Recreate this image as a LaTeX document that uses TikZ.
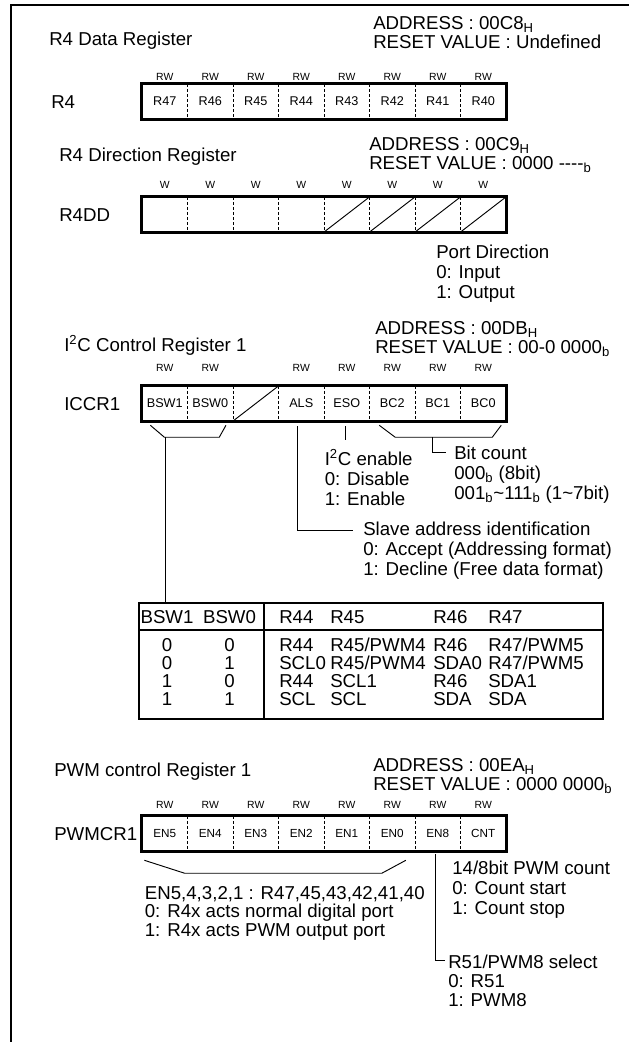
\documentclass[tikz,border=0pt]{standalone}
\usepackage{fontspec}
\setmainfont{Liberation Sans}
\usetikzlibrary{calc}
\tikzset{
    txt/.style={inner sep=0pt, font=\fontsize{14}{14.3}\selectfont},
    blk/.style={inner sep=0pt, font=\fontsize{14}{15}\selectfont, align=left, anchor=north west},
    addr/.style={blk, font=\fontsize{14}{14.3}\selectfont},
    tight/.style={blk, font=\fontsize{14}{14}\selectfont},
    acc/.style={inner sep=0pt, anchor=base, font=\fontsize{7.8}{8}\selectfont},
    cell/.style={inner sep=0pt, minimum width=34.125pt, minimum height=26.25pt, font=\fontsize{9.5}{10}\selectfont},
    pcell/.style={cell, font=\fontsize{8.8}{9}\selectfont},
    regbox/.style={draw, line width=2.4pt},
    sep/.style={line width=1pt, dash pattern=on 2.2pt off 1.6pt},
    wire/.style={line width=0.7pt},
    frame/.style={line width=1.6pt},
    tline/.style={line width=1.5pt},
}
\begin{document}
\begin{tikzpicture}[x=0.75pt, y=-0.75pt]
\useasboundingbox (0,0) rectangle (629,1042);
\draw[frame] (11,1042) -- (11,5) -- (629,5);

% R4 data register
\node[txt, anchor=base west] (r4title) at (49,45.7) {R4 Data Register};
\node[addr] (r4addr) at (373,16) {ADDRESS : 00C8\textsubscript{H}\\RESET VALUE : Undefined};
\node[txt, anchor=base west] (r4name) at (51,108.7) {R4};
\foreach \t [count=\i] in {R47,R46,R45,R44,R43,R42,R41,R40} {
    \node[cell] (ra\i) at ({142+45.5*(\i-0.5)},101.5) {\t};
    \node[acc] (raw\i) at ({142+45.5*(\i-0.5)},80.7) {RW};
}
\foreach \i in {1,...,7} \draw[sep] (ra\i.north east) -- (ra\i.south east);
\draw[regbox] (ra1.north west) rectangle (ra8.south east);

% R4 direction register
\node[txt, anchor=base west] (rdtitle) at (59,161.7) {R4 Direction Register};
\node[addr] (rdaddr) at (369,137) {ADDRESS : 00C9\textsubscript{H}\\RESET VALUE : 0000 -\kern0pt-\kern0pt-\kern0pt-\textsubscript{b}};
\node[txt, anchor=base west] (rdname) at (59,221.2) {R4DD};
\foreach \i in {1,...,8} {
    \node[cell] (rd\i) at ({142+45.5*(\i-0.5)},214.5) {};
    \node[acc] (rdw\i) at ({142+45.5*(\i-0.5)},188.7) {W};
}
\foreach \i in {1,...,7} \draw[sep] (rd\i.north east) -- (rd\i.south east);
\foreach \i in {5,...,8} \draw[wire] (rd\i.south west) -- (rd\i.north east);
\draw[regbox] (rd1.north west) rectangle (rd8.south east);
\node[blk] (rddir) at (436,245) {Port Direction\\0: Input\\1: Output};

% I2C control register 1
\node[txt, anchor=base west] (ictitle) at (64,351.7) {I\textsuperscript{2}C Control Register 1};
\node[addr] (icaddr) at (375,321) {ADDRESS : 00DB\textsubscript{H}\\RESET VALUE : 00-0 0000\textsubscript{b}};
\node[txt, anchor=base west] (icname) at (64,410.7) {ICCR1};
\foreach \t [count=\i] in {BSW1,BSW0,{},ALS,ESO,BC2,BC1,BC0}
    \node[cell] (ic\i) at ({142+45.5*(\i-0.5)},403.5) {\t};
\foreach \i in {1,2,4,5,6,7,8}
    \node[acc] (icw\i) at ({142+45.5*(\i-0.5)},371.7) {RW};
\foreach \i in {1,...,7} \draw[sep] (ic\i.north east) -- (ic\i.south east);
\draw[wire] (ic3.south west) -- (ic3.north east);
\draw[regbox] (ic1.north west) rectangle (ic8.south east);

\draw[wire] ($(ic1.south west)+(8.6,4)$) -- ($(ic1.south west)+(22.7,16)$) -- ($(ic2.south east)+(-14,16)$) -- ($(ic2.south east)+(-7.3,4)$);
\coordinate (bswfoot) at ($(ic1.south west)+(24,16)$);
\coordinate (alsend) at (353,530);
\draw[wire] ($(ic4.south)+(-4,5)$) |- (alsend);
\draw[wire] ($(ic5.south)+(-1,5)$) -- ($(ic5.south)+(-1,19)$);
\draw[wire] ($(ic6.south west)+(10,4)$) -- ($(ic6.south west)+(26,16)$) -- ($(ic8.south east)+(-14,16)$) -- ($(ic8.south east)+(-5,4)$);
\coordinate (bcfoot) at ($(ic7.south)+(-5.75,16)$);
\coordinate (bcend) at (446,452);
\draw[wire] (bcfoot) |- (bcend);

\node[blk] (iceso) at (324.5,449.5) {I\textsuperscript{2}C enable\\0: Disable\\1: Enable};
\node[blk] (icbc) at (454,446) {Bit count\\000\textsubscript{b} (8bit)\\001\textsubscript{b}\textasciitilde 111\textsubscript{b} (1\textasciitilde 7bit)};
\node[blk] (icals) at (363,522) {Slave address identification\\0: Accept (Addressing format)\\1: Decline (Free data format)};

% port select table
\node[draw, tline, inner sep=0pt, minimum width=348pt, minimum height=87pt, anchor=north west] (tbl) at (138,602) {};
\draw[tline] ($(tbl.north west)+(0,28)$) -- ($(tbl.north east)+(0,28)$);
\draw[tline] ($(tbl.north west)+(126,0)$) -- ($(tbl.south west)+(126,0)$);
\draw[wire] (bswfoot) -- (bswfoot |- tbl.north);
\node[txt, anchor=base] (hb1) at (167,623.7) {BSW1};
\node[txt, anchor=base] (hb0) at (229.5,623.7) {BSW0};
\foreach \cx/\t [count=\j] in {279/R44,330/R45,433/R46,488/R47}
    \node[txt, anchor=base west] (hr\j) at (\cx,623.7) {\t};
\foreach \ry/\va/\vb/\vc/\vd/\ve/\vf [count=\k] in {651.7/0/0/R44/{R45/PWM4}/R46/{R47/PWM5}, 669.7/0/1/SCL0/{R45/PWM4}/SDA0/{R47/PWM5}, 687.7/1/0/R44/SCL1/R46/SDA1, 705.7/1/1/SCL/SCL/SDA/SDA} {
    \node[txt, anchor=base] (ta\k) at (167,\ry) {\va};
    \node[txt, anchor=base] (tb\k) at (229.5,\ry) {\vb};
    \node[txt, anchor=base west] (tc\k) at (279,\ry) {\vc};
    \node[txt, anchor=base west] (td\k) at (330,\ry) {\vd};
    \node[txt, anchor=base west] (te\k) at (433,\ry) {\ve};
    \node[txt, anchor=base west] (tf\k) at (488,\ry) {\vf};
}

% PWM control register 1
\node[txt, anchor=base west] (pwtitle) at (54,776.7) {PWM control Register 1};
\node[addr] (pwaddr) at (373,758) {ADDRESS : 00EA\textsubscript{H}\\RESET VALUE : 0000 0000\textsubscript{b}};
\node[txt, anchor=base west] (pwname) at (54,840.2) {PWMCR1};
\foreach \t [count=\i] in {EN5,EN4,EN3,{\raisebox{-1.5pt}{EN2}},EN1,EN0,EN8,CNT} {
    \node[pcell] (pw\i) at ({142+45.5*(\i-0.5)},833.5) {\t};
    \node[acc] (pww\i) at ({142+45.5*(\i-0.5)},808.7) {RW};
}
\foreach \i in {1,...,7} \draw[sep] (pw\i.north east) -- (pw\i.south east);
\draw[regbox] (pw1.north west) rectangle (pw8.south east);

\draw[wire] ($(pw1.south west)+(2.6,9)$) -- ($(pw1.south west)+(43,22)$) -- ($(pw6.south east)+(-33.5,22)$) -- ($(pw6.south east)+(-9.4,9)$);
\coordinate (enfoot) at ($(pw7.south)+(-2,3)$);
\coordinate (enend) at (445,960);
\draw[wire] (enfoot) |- (enend);

\node[tight] (pwen) at (144.6,886) {EN5,4,3,2,1 : R47,45,43,42,41,40\\0: R4x acts normal digital port\\1: R4x acts PWM output port};
\node[blk] (pwcnt) at (452,861) {14/8bit PWM count\\0: Count start\\1: Count stop};
\node[tight] (pwsel) at (448,955) {R51/PWM8 select\\0: R51\\1: PWM8};
\end{tikzpicture}
\end{document}
